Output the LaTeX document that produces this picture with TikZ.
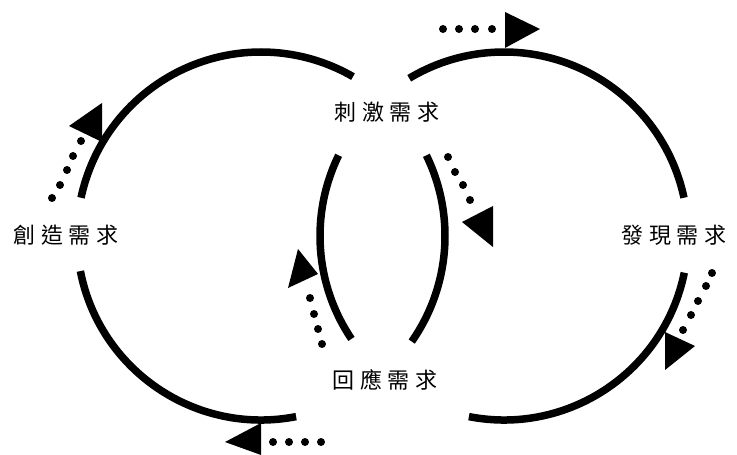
\documentclass[tikz,border=0pt]{standalone}
\usepackage{fontspec}
\newfontfamily\cjk[LetterSpace=27]{Noto Sans CJK TC}
\usetikzlibrary{calc}
\tikzset{
  ring/.style  = {line width=7.5pt},
  lbl/.style   = {font=\cjk\fontsize{22}{24}\selectfont, inner sep=0pt},
  dotc/.style  = {fill=black},
  head/.style  = {fill=black},
}

\begin{document}
\begin{tikzpicture}[x=1pt, y=1pt]
\useasboundingbox (0,0) rectangle (737,455);

% ---- centres of the two loops ----
\coordinate (cl) at (261,219);
\coordinate (cr) at (504,219);

% ---- labels ----
\node[lbl] (create) at (66,220)  {創造需求};
\node[lbl] (stim)   at (387,343) {刺激需求};
\node[lbl] (resp)   at (385,75)  {回應需求};
\node[lbl] (find)   at (674,220) {發現需求};

% ---- left loop ----
\draw[ring] ($(cl)+(60:184)$)  arc[start angle=60,  end angle=168, radius=184];
\draw[ring] ($(cl)+(191:184)$) arc[start angle=191, end angle=281, radius=184];
\draw[ring] ($(cl)+(-35:184)$) arc[start angle=-35, end angle=26,  radius=184];

% ---- right loop ----
\draw[ring] ($(cr)+(12:184)$)   arc[start angle=12,   end angle=121,   radius=184];
\draw[ring] ($(cr)+(-101:184)$) arc[start angle=-101, end angle=-11.5, radius=184];
\draw[ring] ($(cr)+(154:184)$)  arc[start angle=154,  end angle=214,   radius=184];

% ---- dotted arrows ----
\foreach \p in {(52,257),(60,270),(67,285),(73,299),(81,314)}
  \fill[dotc] \p circle[radius=4];
\fill[head] (102,352) -- (69,329) -- (102,313) -- cycle;

\foreach \p in {(443,426),(459,426),(475,426),(492,426)}
  \fill[dotc] \p circle[radius=4];
\fill[head] (505,443) -- (540,426) -- (505,407) -- cycle;

\foreach \p in {(448,298),(455,283),(463,270),(470,255)}
  \fill[dotc] \p circle[radius=4];
\fill[head] (493,249) -- (462,233) -- (493,208) -- cycle;

\foreach \p in {(310,157),(314,141),(318,126),(322,111)}
  \fill[dotc] \p circle[radius=4];
\fill[head] (298,206) -- (318,181) -- (288,167) -- cycle;

\foreach \p in {(273,13),(289,13),(305,13),(321,13)}
  \fill[dotc] \p circle[radius=4];
\fill[head] (261,32) -- (225,13) -- (261,0) -- cycle;

\foreach \p in {(712,182),(706,169),(698,154),(691,140),(683,125)}
  \fill[dotc] \p circle[radius=4];
\fill[head] (665,123) -- (695,109) -- (665,85) -- cycle;

\end{tikzpicture}
\end{document}
